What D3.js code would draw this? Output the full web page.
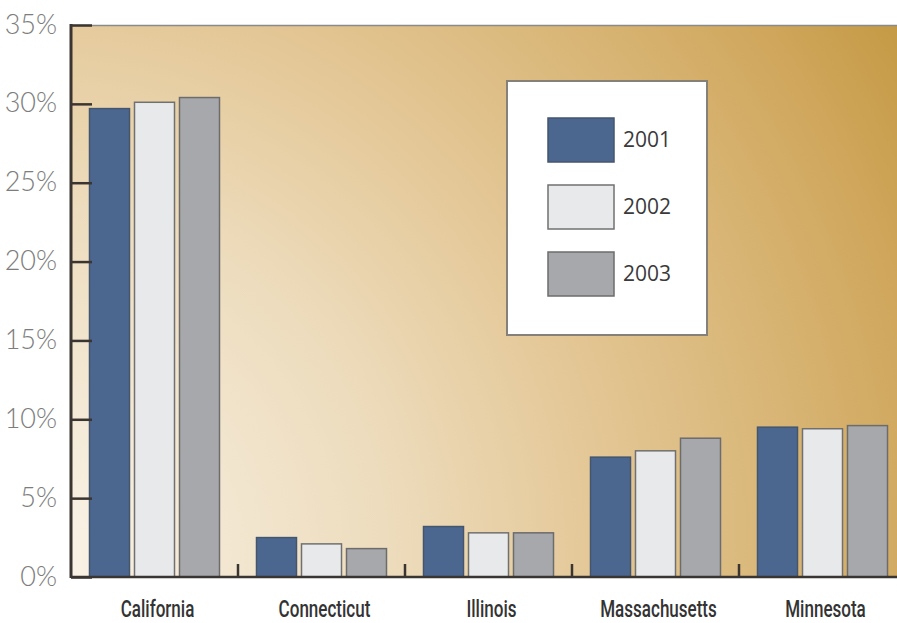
<!DOCTYPE html>
<html>
<head>
<meta charset="utf-8">
<script src="https://cdn.jsdelivr.net/npm/d3@7"></script>
<style>
  html, body { margin: 0; padding: 0; background: #ffffff; }
  svg { display: block; }
</style>
</head>
<body>
<svg id="chart" width="897" height="623"></svg>
<script>
// Share of total by state, per year (percent)
const states = ["California", "Connecticut", "Illinois", "Massachusetts", "Minnesota"];
const years = ["2001", "2002", "2003"];
const values2001 = [29.7, 2.5, 3.2, 7.6, 9.5];
const values2002 = [30.1, 2.1, 2.8, 8.0, 9.4];
const values2003 = [30.4, 1.8, 2.8, 8.8, 9.6];
const yTicks = [0, 5, 10, 15, 20, 25, 30, 35];

const seriesValues = [values2001, values2002, values2003];
const fills = { "2001": "#4b678f", "2002": "#e8e9eb", "2003": "#a6a8ab" };
const strokes = { "2001": "#44556e", "2002": "#707070", "2003": "#6c6c6c" };

const svg = d3.select("#chart");
const W = 897;
const plotLeft = 71, plotTop = 25, plotBottom = 577;
const groupW = 167;

const x0 = d3.scaleBand().domain(states).range([plotLeft, plotLeft + groupW * states.length]).padding(0);
const x1 = d3.scaleBand().domain(years).range([18.5, 148.5]).paddingInner(1 / 9).paddingOuter(0);
const y = d3.scaleLinear().domain([0, 35]).range([plotBottom, plotTop]);

// Plot background: warm radial wash, pale at the lower left, golden toward the upper right
const defs = svg.append("defs");
const grad = defs.append("radialGradient")
  .attr("id", "bg").attr("gradientUnits", "userSpaceOnUse")
  .attr("cx", 30).attr("cy", 560).attr("r", 1020)
  .attr("fx", 30).attr("fy", 560);
[
  [0.00, "#faf4ea"],
  [0.35, "#eddcbd"],
  [0.55, "#e4c898"],
  [0.75, "#d8b575"],
  [0.88, "#d0a75d"],
  [1.00, "#c49a45"]
].forEach(([o, c]) => grad.append("stop").attr("offset", o).attr("stop-color", c));

svg.append("rect")
  .attr("x", plotLeft).attr("y", plotTop)
  .attr("width", W - plotLeft).attr("height", plotBottom - plotTop)
  .attr("fill", "url(#bg)");

// Thin gray top edge of the plot
svg.append("line")
  .attr("x1", plotLeft).attr("x2", W).attr("y1", plotTop + 0.5).attr("y2", plotTop + 0.5)
  .attr("stroke", "#8a8a8a").attr("stroke-width", 1.5);

// Bars
const groups = svg.append("g").selectAll("g")
  .data(states)
  .join("g")
  .attr("transform", d => `translate(${x0(d)},0)`);

groups.selectAll("rect")
  .data((s, i) => years.map((yr, k) => ({ year: yr, value: seriesValues[k][i] })))
  .join("rect")
  .attr("x", d => x1(d.year))
  .attr("y", d => y(d.value))
  .attr("width", x1.bandwidth())
  .attr("height", d => y(0) - y(d.value))
  .attr("fill", d => fills[d.year])
  .attr("stroke", d => strokes[d.year])
  .attr("stroke-width", 1.5);

// Y axis: ticks point into the plot, labels on the left
const yAxis = d3.axisLeft(y)
  .tickValues(yTicks)
  .tickSize(-21)
  .tickPadding(14)
  .tickFormat(d => d + "%");

const gy = svg.append("g")
  .attr("transform", `translate(${plotLeft},0)`)
  .call(yAxis);
gy.select(".domain").remove();
gy.selectAll(".tick line").attr("stroke", "#3a3530").attr("stroke-width", 2.5);
gy.selectAll(".tick text")
  .attr("fill", "#7d7d7d")
  .attr("font-family", "Lato, 'Open Sans', sans-serif")
  .attr("font-weight", 300)
  .attr("font-size", 27)
  .attr("dy", "0.3em");

svg.append("line")
  .attr("x1", plotLeft).attr("x2", plotLeft)
  .attr("y1", plotTop - 1).attr("y2", plotBottom + 1)
  .attr("stroke", "#3a3530").attr("stroke-width", 3);

// X axis: baseline, category dividers and condensed labels
const xAxis = d3.axisBottom(x0).tickSize(0).tickPadding(0);
const gx = svg.append("g")
  .attr("transform", `translate(0,${plotBottom})`)
  .call(xAxis);
gx.select(".domain").remove();
gx.selectAll(".tick text")
  .attr("x", 3 / 0.71)
  .attr("y", 40)
  .attr("dy", null)
  .attr("fill", "#333333")
  .attr("font-family", "Roboto, sans-serif")
  .attr("font-weight", 500)
  .attr("font-size", 24)
  .attr("transform", "scale(0.71,1)");

svg.append("line")
  .attr("x1", plotLeft).attr("x2", W).attr("y1", plotBottom).attr("y2", plotBottom)
  .attr("stroke", "#3a3530").attr("stroke-width", 2.5);

svg.append("g").selectAll("line")
  .data(states.slice(1))
  .join("line")
  .attr("x1", d => x0(d)).attr("x2", d => x0(d))
  .attr("y1", plotBottom).attr("y2", plotBottom - 13)
  .attr("stroke", "#3a3530").attr("stroke-width", 2.5);

// Legend
const legend = svg.append("g").attr("transform", "translate(507,81)");
legend.append("rect")
  .attr("width", 200).attr("height", 254)
  .attr("fill", "#ffffff")
  .attr("stroke", "#85807a").attr("stroke-width", 2);

const legendY = d3.scalePoint().domain(years).range([37, 171]);
const items = legend.selectAll("g.item")
  .data(years)
  .join("g")
  .attr("class", "item")
  .attr("transform", d => `translate(41,${legendY(d)})`);
items.append("rect")
  .attr("width", 66).attr("height", 44)
  .attr("fill", d => fills[d])
  .attr("stroke", d => strokes[d]).attr("stroke-width", 1.5);
items.append("text")
  .attr("x", 75).attr("y", 22).attr("dy", "0.35em")
  .attr("fill", "#3a3a3a")
  .attr("font-family", "'Open Sans', Lato, sans-serif")
  .attr("font-size", 21)
  .text(d => d);
</script>
</body>
</html>
